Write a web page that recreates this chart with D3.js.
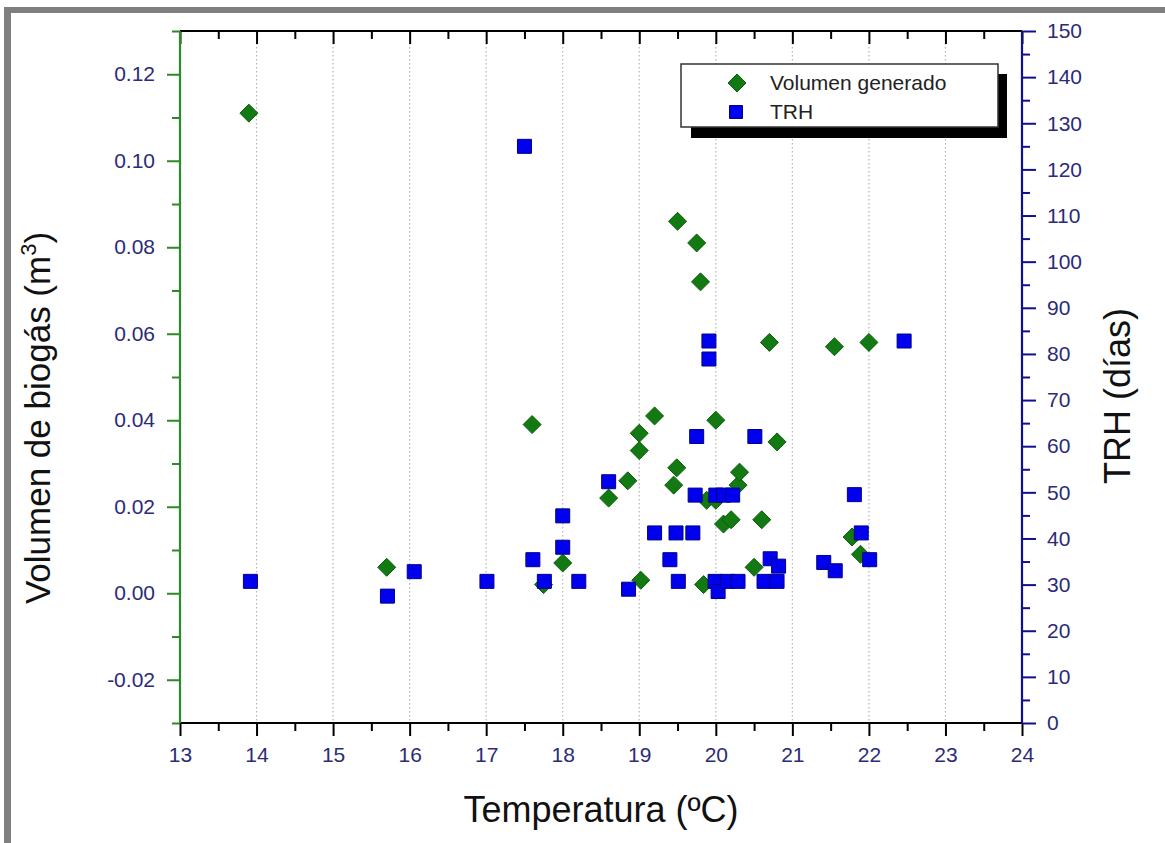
<!DOCTYPE html>
<html>
<head>
<meta charset="utf-8">
<script src="https://cdn.jsdelivr.net/npm/d3@7"></script>
<style>
  html, body { margin: 0; padding: 0; background: #fff; }
  svg { display: block; font-family: "Liberation Sans", Arial, sans-serif; }
</style>
</head>
<body>
<svg id="chart" width="1165" height="843"></svg>
<script>
// ---- Data ----
const volTemp = [13.9, 15.7, 17.6, 17.75, 18.0, 18.6, 18.85, 19.0, 19.0, 19.02, 19.2, 19.45, 19.49, 19.5, 19.75, 19.8, 19.84, 19.88, 20.0, 20.0, 20.1, 20.2, 20.29, 20.31, 20.5, 20.6, 20.7, 20.8, 21.55, 21.78, 21.89, 22.0];
const volValue = [0.111, 0.006, 0.039, 0.002, 0.007, 0.022, 0.026, 0.033, 0.037, 0.003, 0.041, 0.025, 0.029, 0.086, 0.081, 0.072, 0.002, 0.0215, 0.0215, 0.040, 0.016, 0.017, 0.025, 0.028, 0.006, 0.017, 0.058, 0.035, 0.057, 0.013, 0.009, 0.058];

const trhTemp = [13.92, 15.71, 16.06, 17.01, 17.5, 17.61, 17.76, 18.0, 18.0, 18.21, 18.6, 18.86, 19.2, 19.4, 19.48, 19.51, 19.7, 19.73, 19.75, 19.91, 19.91, 20.0, 19.99, 20.03, 20.1, 20.15, 20.22, 20.29, 20.51, 20.63, 20.71, 20.8, 20.82, 21.41, 21.56, 21.81, 21.9, 22.01, 22.46];
const trhDays = [30.7, 27.5, 32.8, 30.7, 125, 35.4, 30.7, 38.1, 44.9, 30.7, 52.3, 29.0, 41.2, 35.4, 41.2, 30.7, 41.2, 49.4, 62.1, 82.8, 78.9, 49.4, 30.7, 28.5, 49.4, 30.7, 49.4, 30.7, 62.1, 30.7, 35.6, 30.7, 34.0, 34.8, 33.0, 49.5, 41.2, 35.4, 82.8];

const xTicks = [13, 14, 15, 16, 17, 18, 19, 20, 21, 22, 23, 24];
const yLeftTicks = [-0.02, 0.00, 0.02, 0.04, 0.06, 0.08, 0.10, 0.12];
const yRightTicks = [0, 10, 20, 30, 40, 50, 60, 70, 80, 90, 100, 110, 120, 130, 140, 150];
const gridValues = [14, 15, 16, 17, 18, 19, 20, 21, 22, 23];

const seriesNames = ["Volumen generado", "TRH"];
const xTitle = "Temperatura (ºC)";
const yLeftTitle = "Volumen de biogás (m";
const yRightTitle = "TRH (días)";

// ---- Layout ----
const L = 180, R = 1022, T = 31, B = 723;
const svg = d3.select("#chart");

const x = d3.scaleLinear().domain([13, 24]).range([L, R]);
const yL = d3.scaleLinear().domain([-0.03, 0.13]).range([B, T]);
const yR = d3.scaleLinear().domain([0, 150]).range([B, T]);

const labelColor = "#2b2b78";
const greenAxis = "#2b8a2b";
const blueAxis = "#10108f";

// outer frame
svg.append("rect").attr("x", 4).attr("y", 7).attr("width", 1161).attr("height", 6).attr("fill", "#7f7f7f");
svg.append("rect").attr("x", 4).attr("y", 7).attr("width", 7).attr("height", 836).attr("fill", "#7f7f7f");

// grid
svg.append("g").selectAll("line").data(gridValues).join("line")
  .attr("x1", d => x(d)).attr("x2", d => x(d))
  .attr("y1", T).attr("y2", B)
  .attr("stroke", "#b5b5b5").attr("stroke-width", 1.2)
  .attr("stroke-dasharray", "1.5,2.5");

function styleAxis(g, color, labels) {
  g.select(".domain").remove();
  g.selectAll(".tick line").attr("stroke", color).attr("stroke-width", 2);
  g.selectAll(".tick text").attr("fill", labelColor).style("font-size", "21px");
  if (!labels) g.selectAll(".tick text").remove();
}

const fmtLeft = d => d3.format(".2f")(d).replace("\u2212", "-");

const xMinor = d3.range(13.5, 24, 1);
const yLMinor = [-0.03, -0.01, 0.01, 0.03, 0.05, 0.07, 0.09, 0.11, 0.13];
const yRMinor = d3.range(5, 150, 10);

// bottom axis
svg.append("g").attr("transform", `translate(0,${B})`)
  .call(d3.axisBottom(x).tickValues(xMinor).tickSize(8).tickFormat(""))
  .call(g => styleAxis(g, "#000", false));
svg.append("g").attr("transform", `translate(0,${B})`)
  .call(d3.axisBottom(x).tickValues(xTicks).tickSize(13).tickPadding(11).tickFormat(d3.format("d")))
  .call(g => styleAxis(g, "#000", true));
// top axis (ticks inward)
svg.append("g").attr("transform", `translate(0,${T})`)
  .call(d3.axisBottom(x).tickValues(xMinor).tickSize(8).tickFormat(""))
  .call(g => styleAxis(g, "#000", false));
svg.append("g").attr("transform", `translate(0,${T})`)
  .call(d3.axisBottom(x).tickValues(xTicks).tickSize(13).tickFormat(""))
  .call(g => styleAxis(g, "#000", false));
// left axis
svg.append("g").attr("transform", `translate(${L},0)`)
  .call(d3.axisLeft(yL).tickValues(yLMinor).tickSize(8).tickFormat(""))
  .call(g => styleAxis(g, greenAxis, false));
svg.append("g").attr("transform", `translate(${L},0)`)
  .call(d3.axisLeft(yL).tickValues(yLeftTicks).tickSize(13).tickPadding(12).tickFormat(fmtLeft))
  .call(g => styleAxis(g, greenAxis, true));
// right axis
svg.append("g").attr("transform", `translate(${R},0)`)
  .call(d3.axisRight(yR).tickValues(yRMinor).tickSize(8).tickFormat(""))
  .call(g => styleAxis(g, blueAxis, false));
svg.append("g").attr("transform", `translate(${R},0)`)
  .call(d3.axisRight(yR).tickValues(yRightTicks).tickSize(14).tickPadding(11).tickFormat(d3.format("d")))
  .call(g => styleAxis(g, blueAxis, true));

// axis lines
svg.append("line").attr("x1", L).attr("x2", R).attr("y1", T).attr("y2", T).attr("stroke", "#000").attr("stroke-width", 2.2);
svg.append("line").attr("x1", L).attr("x2", R).attr("y1", B).attr("y2", B).attr("stroke", "#000").attr("stroke-width", 2.2);
svg.append("line").attr("x1", L).attr("x2", L).attr("y1", T).attr("y2", B).attr("stroke", greenAxis).attr("stroke-width", 2.2);
svg.append("line").attr("x1", R).attr("x2", R).attr("y1", T).attr("y2", B).attr("stroke", blueAxis).attr("stroke-width", 2.2);

// markers
const diamondPath = "M0,-9L9,0L0,9L-9,0Z";
const squarePath = "M-7,-7H7V7H-7Z";
const greenFill = "#137a13", greenStroke = "#0b5e0b";
const blueFill = "#0000ee", blueStroke = "#00008a";

svg.append("g").selectAll("path").data(volTemp).join("path")
  .attr("d", diamondPath)
  .attr("transform", (d, i) => `translate(${x(d)},${yL(volValue[i])})`)
  .attr("fill", greenFill).attr("stroke", greenStroke).attr("stroke-width", 1);

svg.append("g").selectAll("path").data(trhTemp).join("path")
  .attr("d", squarePath)
  .attr("transform", (d, i) => `translate(${x(d)},${yR(trhDays[i])})`)
  .attr("fill", blueFill).attr("stroke", blueStroke).attr("stroke-width", 1);

// legend
const lg = svg.append("g");
lg.append("rect").attr("x", 691).attr("y", 74).attr("width", 316).attr("height", 64).attr("fill", "#000");
lg.append("rect").attr("x", 681).attr("y", 64).attr("width", 317).attr("height", 63)
  .attr("fill", "#fff").attr("stroke", "#333").attr("stroke-width", 1.5);
lg.append("path").attr("d", diamondPath).attr("transform", "translate(737,83)")
  .attr("fill", greenFill).attr("stroke", greenStroke);
lg.append("path").attr("d", "M-6.5,-6.5H6.5V6.5H-6.5Z").attr("transform", "translate(736,112)")
  .attr("fill", blueFill).attr("stroke", blueStroke);
lg.append("text").attr("x", 770).attr("y", 90).attr("fill", "#222").style("font-size", "21px").text(seriesNames[0]);
lg.append("text").attr("x", 770).attr("y", 119).attr("fill", "#222").style("font-size", "21px").text(seriesNames[1]);

// titles
svg.append("text").attr("x", 601).attr("y", 822).attr("text-anchor", "middle")
  .attr("fill", "#111").style("font-size", "36px").text(xTitle);

const lt = svg.append("text").attr("transform", "translate(50,418) rotate(-90)")
  .attr("text-anchor", "middle").attr("fill", "#111").style("font-size", "35px");
lt.append("tspan").text(yLeftTitle);
lt.append("tspan").attr("dy", -14).style("font-size", "22px").text("3");
lt.append("tspan").attr("dy", 14).text(")");

svg.append("text").attr("transform", "translate(1130,396) rotate(-90)")
  .attr("text-anchor", "middle").attr("fill", "#111").style("font-size", "36px").text(yRightTitle);
</script>
</body>
</html>
